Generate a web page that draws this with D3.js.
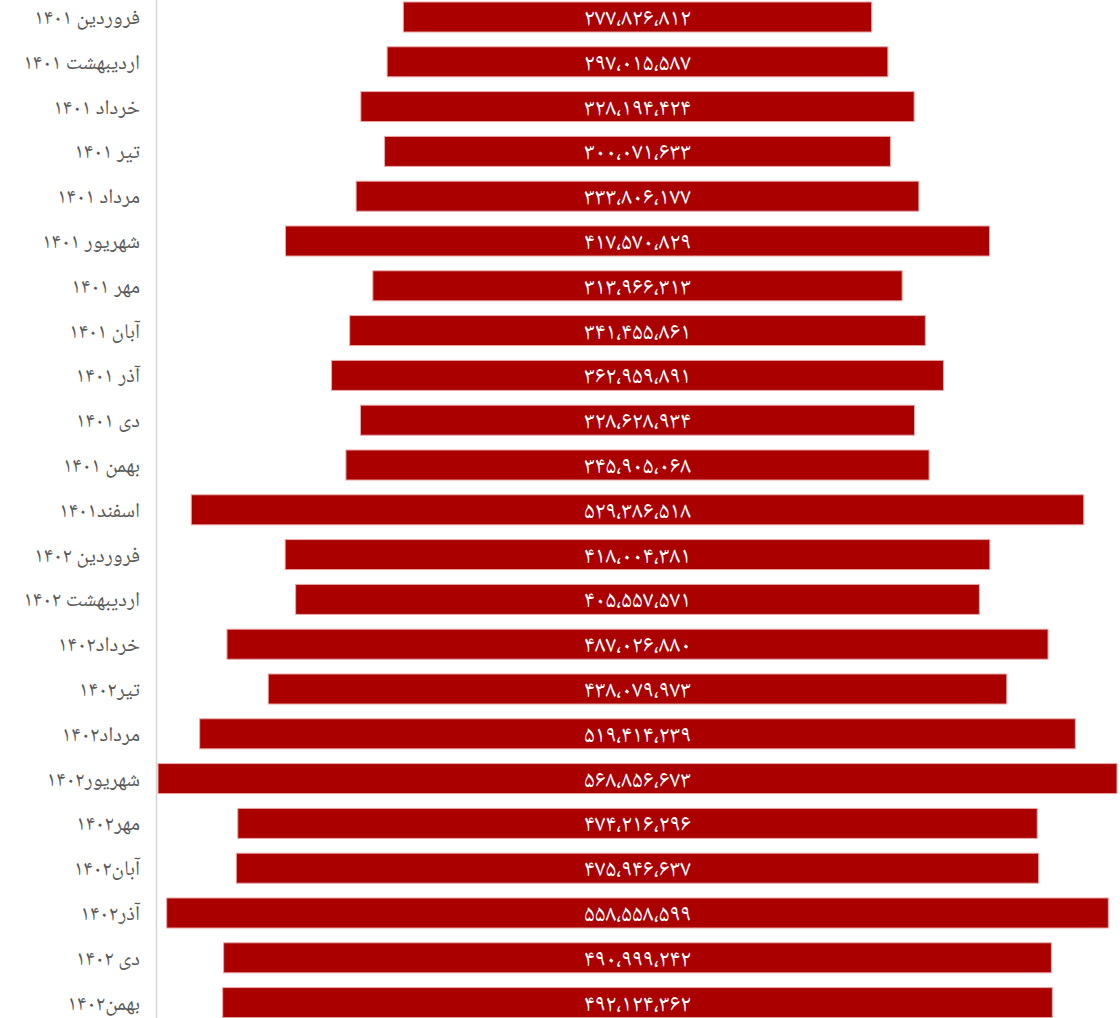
<!DOCTYPE html>
<html>
<head>
<meta charset="utf-8">
<script src="https://cdn.jsdelivr.net/npm/d3@7"></script>
<style>
  body { margin: 0; background: #fff; }
  svg { display: block; }
</style>
</head>
<body>
<svg width="1120" height="1018"></svg>
<script>
var months = [
  "فروردین ۱۴۰۱", "اردیبهشت ۱۴۰۱", "خرداد ۱۴۰۱", "تیر ۱۴۰۱", "مرداد ۱۴۰۱",
  "شهریور ۱۴۰۱", "مهر ۱۴۰۱", "آبان ۱۴۰۱", "آذر ۱۴۰۱", "دی ۱۴۰۱", "بهمن ۱۴۰۱",
  "اسفند۱۴۰۱", "فروردین ۱۴۰۲", "اردیبهشت ۱۴۰۲", "خرداد۱۴۰۲", "تیر۱۴۰۲",
  "مرداد۱۴۰۲", "شهریور۱۴۰۲", "مهر۱۴۰۲", "آبان۱۴۰۲", "آذر۱۴۰۲", "دی ۱۴۰۲", "بهمن۱۴۰۲"
];
var values = [
  277826812, 297015587, 328194424, 300071633, 333806177,
  417570829, 313966313, 341455861, 362959891, 328628934, 345905068,
  529386518, 418004381, 405557571, 487026880, 438079973,
  519414239, 568856673, 474216296, 475946637, 558558599, 490999242, 492124362
];

var fa_digits = "۰۱۲۳۴۵۶۷۸۹";
function fa_num(v){
  var s = d3.format(",")(v);
  return s.replace(/\d/g, function(c){ return fa_digits[+c]; }).replace(/,/g, "،");
}

var font = "'Noto Naskh Arabic', 'Noto Sans Arabic', 'DejaVu Sans', sans-serif";

var svg = d3.select("svg");
var data = months.map(function(m, i){ return {month: m, value: values[i]}; });
var vmax = d3.max(values);

var x = d3.scaleLinear()
    .domain([-vmax / 2, vmax / 2])
    .range([158, 1117]);

var y = d3.scaleBand()
    .domain(months)
    .range([-5.4, 1025])
    .paddingInner(0.33)
    .paddingOuter(0.165);

// left axis line
svg.append("line")
    .attr("x1", 156.5).attr("x2", 156.5)
    .attr("y1", 0).attr("y2", 1018)
    .attr("stroke", "#d4d4d4")
    .attr("stroke-width", 1.5);

svg.append("g")
  .selectAll("rect")
  .data(data)
  .enter().append("rect")
    .attr("x", function(d){ return x(-d.value / 2); })
    .attr("y", function(d){ return y(d.month); })
    .attr("width", function(d){ return x(d.value / 2) - x(-d.value / 2); })
    .attr("height", y.bandwidth())
    .attr("fill", "#aa0000")
    .attr("stroke", "#e8a8a8")
    .attr("stroke-width", 1);

svg.append("g")
  .selectAll("text")
  .data(data)
  .enter().append("text")
    .attr("x", x(0))
    .attr("y", function(d){ return y(d.month) + y.bandwidth() / 2; })
    .attr("dy", "0.33em")
    .attr("text-anchor", "middle")
    .attr("fill", "#fff")
    .style("font-family", font)
    .style("font-size", "24px")
    .style("font-weight", "300")
    .text(function(d){ return fa_num(d.value); });

svg.append("g")
  .selectAll("text")
  .data(data)
  .enter().append("text")
    .attr("x", 140)
    .attr("y", function(d){ return y(d.month) + y.bandwidth() / 2; })
    .attr("dy", "0.33em")
    .attr("text-anchor", "end")
    .attr("fill", "#595959")
    .style("font-family", font)
    .style("font-size", "21px")
    .text(function(d){ return d.month; });
</script>
</body>
</html>
